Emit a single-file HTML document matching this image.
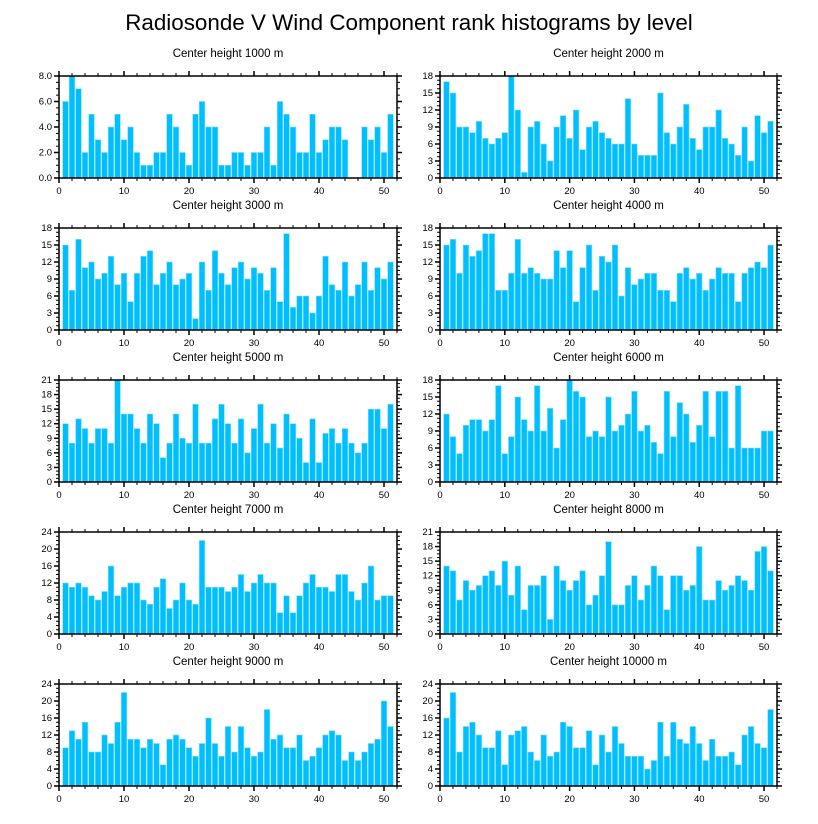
<!DOCTYPE html>
<html><head><meta charset="utf-8"><style>
html,body{margin:0;padding:0;background:#fff;}
svg{display:block;font-family:"Liberation Sans",sans-serif;}
</style></head><body>
<svg id="chart" width="818" height="824" viewBox="0 0 818 824" xmlns="http://www.w3.org/2000/svg">
<text x="409" y="30" text-anchor="middle" font-size="22.4">Radiosonde V Wind Component rank histograms by level</text>
</svg>
<script>
const levels = ["Center height 1000 m","Center height 2000 m","Center height 3000 m","Center height 4000 m","Center height 5000 m","Center height 6000 m","Center height 7000 m","Center height 8000 m","Center height 9000 m","Center height 10000 m"];
const h1000 = [6,8,7,2,5,3,2,4,5,3,4,2,1,1,2,2,5,4,2,1,5,6,4,4,1,1,2,2,1,2,2,4,1,6,5,4,2,2,5,2,3,4,4,3,0,0,4,3,4,2,5];
const h2000 = [17,15,9,9,8,10,7,6,7,8,18,12,1,9,10,6,3,9,11,7,12,5,9,10,8,7,6,6,14,6,4,4,4,15,8,6,9,13,7,5,9,9,12,7,6,4,9,3,11,8,10];
const h3000 = [15,7,16,11,12,9,10,13,8,10,5,10,13,14,8,10,12,8,9,10,2,12,7,14,10,8,11,12,9,11,10,7,11,5,17,4,6,6,3,6,13,8,7,12,6,8,12,7,11,9,12];
const h4000 = [15,16,10,15,13,14,17,17,7,7,10,16,10,11,10,9,9,14,11,14,5,11,15,7,13,12,15,6,11,8,9,10,10,7,7,5,10,11,9,10,7,9,11,10,10,5,10,11,12,11,15];
const h5000 = [12,8,13,11,8,11,11,8,21,14,14,11,8,14,12,5,8,14,9,8,16,8,8,13,16,12,8,13,6,11,16,8,12,7,14,12,9,4,13,4,10,11,8,11,8,6,8,15,15,11,16];
const h6000 = [12,8,5,10,11,11,9,11,17,5,8,15,11,9,17,9,13,6,11,18,16,15,8,9,8,15,9,10,12,16,9,10,7,5,16,8,14,12,7,10,16,8,16,16,6,17,6,6,6,9,9];
const h7000 = [12,11,12,11,9,8,10,16,9,11,12,12,8,7,11,13,6,8,12,8,7,22,11,11,11,10,11,14,10,12,14,12,12,5,9,5,9,12,14,11,11,10,14,14,10,8,12,16,8,9,9];
const h8000 = [14,13,7,11,9,10,12,13,10,15,8,14,5,10,10,12,3,14,11,9,11,13,6,8,12,19,6,6,10,12,7,10,14,12,5,12,12,9,10,18,7,7,11,9,10,12,11,9,17,18,13];
const h9000 = [9,13,11,15,8,8,12,10,15,22,11,11,9,11,10,5,11,12,11,9,7,10,16,10,7,14,8,14,9,7,8,18,11,12,9,9,12,6,7,9,12,13,12,6,8,6,8,10,11,20,14];
const h10000 = [16,22,8,14,15,12,9,9,13,5,12,13,14,8,6,12,7,8,15,14,9,9,13,5,12,8,14,10,7,7,7,4,6,15,7,15,11,10,14,10,6,11,7,7,8,5,12,14,10,9,18];
const yMaxes = [8,18,18,18,21,18,24,21,24,24];
const yTickSteps = [2,3,3,3,3,3,4,3,4,4];
const xTicks = [0,10,20,30,40,50];

const series = [h1000,h2000,h3000,h4000,h5000,h6000,h7000,h8000,h9000,h10000];
const NS = "http://www.w3.org/2000/svg";
const svg = document.getElementById("chart");
function mk(tag, attrs, parent){const e=document.createElementNS(NS,tag);for(const k in attrs)e.setAttribute(k,attrs[k]);(parent||svg).appendChild(e);return e;}

const XMAX = 52;
series.forEach((vals, p) => {
  const col = p % 2, row = Math.floor(p/2);
  const L = col ? 440 : 59, R = col ? 777 : 397;
  const T = 76 + row*152, B = T + 102;
  const ymax = yMaxes[p], step = yTickSteps[p];
  const xs = v => L + (v/XMAX)*(R-L);
  const ys = v => B - (v/ymax)*(B-T);
  const g = mk("g", {});
  
  
  const t = mk("text", {x:(L+R)/2, y:T-19, "text-anchor":"middle", "font-size":"11.5"}, g);
  
  
  t.textContent = levels[p];
  vals.forEach((v, i) => {
    const cx = xs(i+1), w = xs(0.86)-xs(0);
    const r = mk("rect", {x:cx-w/2, y:ys(v), width:w, height:Math.max(0,B-ys(v)), fill:"#00BFFF", stroke:"#7FDBFF", "stroke-width":"0.6"}, g);
    
    
  });
  const fr = mk("rect", {x:L, y:T, width:R-L, height:B-T, fill:"none", stroke:"#000", "stroke-width":"1.5"}, g);
  
  
  for (let v=0; v<=XMAX; v+=2) {
    const major = v%10===0, len = major?5:3, x = xs(v);
    mk("line",{x1:x,x2:x,y1:B,y2:B+len,stroke:"#000","stroke-width":major?1.5:1},g);
    mk("line",{x1:x,x2:x,y1:T,y2:T-len,stroke:"#000","stroke-width":major?1.5:1},g);
  }
  xTicks.forEach(v => {
    const tl = mk("text",{x:xs(v),y:B+16,"text-anchor":"middle","font-size":"9.5"},g);
    
    
    tl.textContent = v;
  });
  const minor = step/4;
  for (let k=0; k*minor<=ymax+1e-9; k++) {
    const v = k*minor, major = k%4===0, len = major?5:3, y = ys(v);
    mk("line",{x1:L,x2:L-len,y1:y,y2:y,stroke:"#000","stroke-width":major?1.5:1},g);
    mk("line",{x1:R,x2:R+len,y1:y,y2:y,stroke:"#000","stroke-width":major?1.5:1},g);
    if (major) {
      const yl = mk("text",{x:L-7,y:y+3,"text-anchor":"end","font-size":"9.5"},g);
      
      
      yl.textContent = p===0 ? v.toFixed(1) : v;
    }
  }
});
</script>
</body></html>
